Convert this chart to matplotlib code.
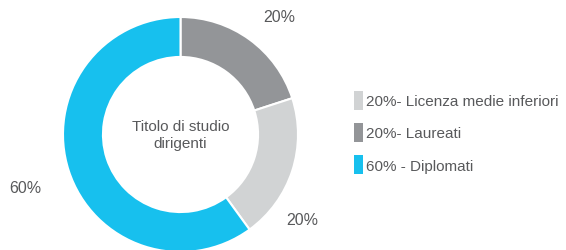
import numpy as np
import matplotlib
matplotlib.use("Agg")
import matplotlib.pyplot as plt
from matplotlib.patches import Patch

# Data
categories = ["Laureati", "Licenza medie inferiori", "Diplomati"]
values = [20, 20, 60]
slice_labels = ["20%", "20%", "60%"]
legend_order = [1, 0, 2]
legend_labels = ["20%- Licenza medie inferiori", "20%- Laureati", "60% - Diplomati"]
center_title = "Titolo di studio\ndirigenti"

# Style
colors = ["#939598", "#D1D3D4", "#17C0EE"]
text_color = "#58595B"
font = ["Liberation Sans", "DejaVu Sans"]
plt.rcParams["font.family"] = font

W, H = 566, 251
fig = plt.figure(figsize=(W / 100, H / 100), dpi=100)
cx, cy, R = 180.5, 135.5, 117.5
ax = fig.add_axes([(cx - R) / W, (H - cy - R) / H, 2 * R / W, 2 * R / H])

wedges, _ = ax.pie(values, colors=colors, startangle=90, counterclock=False,
                   radius=1.0, wedgeprops=dict(width=0.34, edgecolor="white", linewidth=1.5))
ax.set_xlim(-1, 1)
ax.set_ylim(-1, 1)
ax.set_aspect("equal")
ax.axis("off")

# label positions (angle deg, radius) – style only
label_pos = [(50, 1.306), (-34.7, 1.265), (198.8, 1.395)]
for lab, (ang, r) in zip(slice_labels, label_pos):
    a = np.deg2rad(ang)
    ax.text(r * np.cos(a), r * np.sin(a), lab, ha="center", va="center",
            fontsize=11.5, color=text_color, clip_on=False)

ax.text(0, 0.0, center_title, ha="center", va="center", fontsize=11,
        color=text_color, linespacing=1.25)

handles = [Patch(facecolor=colors[i], edgecolor="none") for i in legend_order]
leg = fig.legend(handles, legend_labels, loc="upper left",
                 bbox_to_anchor=(354 / W, 1 - 92 / H), frameon=False,
                 fontsize=11, handlelength=0.6, handleheight=1.5,
                 handletextpad=0.2, labelspacing=0.88, borderpad=0, borderaxespad=0)
for t in leg.get_texts():
    t.set_color(text_color)

fig.savefig("out.png", dpi=100)
